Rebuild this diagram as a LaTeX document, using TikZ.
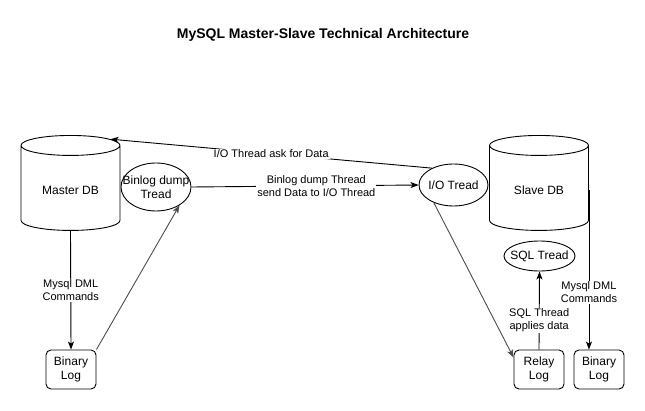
\documentclass[tikz,border=0pt]{standalone}
\usepackage{fontspec}
\setmainfont{Liberation Sans}
\usetikzlibrary{shapes.geometric,arrows.meta}
\newcommand{\zbox}[1]{\makebox[0pt]{#1}}
\begin{document}
\begin{tikzpicture}[x=1pt,y=-1pt,
    every node/.style={font=\fontsize{11}{13}\selectfont},
    db/.style={cylinder, draw, shape border rotate=90, aspect=2, anchor=north,
      minimum width=99pt, minimum height=95pt, inner sep=5pt, line width=0.9pt,
      font=\fontsize{12}{14}\selectfont},
    thread/.style={ellipse, draw, inner sep=0pt, align=center, line width=0.9pt,
      font=\fontsize{12}{14}\selectfont},
    logbox/.style={rectangle, draw, rounded corners=5pt, minimum width=50pt,
      minimum height=39pt, inner sep=0pt, align=center, line width=0.9pt,
      font=\fontsize{12}{14}\selectfont},
    lbl/.style={fill=white, align=center, inner sep=1pt},
    arr/.style={-{Stealth[length=8pt,width=6pt,inset=2pt]}, line width=0.9pt}]
  \useasboundingbox (0,0) rectangle (645,411);
  \node[font=\bfseries\fontsize{14}{16}\selectfont] (title) at (323,35)
    {MySQL Master-Slave Technical Architecture};
  \node[db] (master) at (70.5,135) {\zbox{Master DB}};
  \node[db] (slave) at (539,135) {\zbox{Slave DB}};
  \node[thread, minimum width=70pt, minimum height=48pt] (dump) at (156,187)
    {\zbox{Binlog dump}\\\zbox{Tread}};
  \node[thread, minimum width=69pt, minimum height=42pt] (io) at (453.5,185)
    {\zbox{I/O Tread}};
  \node[thread, minimum width=71pt, minimum height=30pt] (sql) at (539.5,256)
    {\zbox{SQL Tread}};
  \node[logbox] (mbin) at (71,369.5) {Binary\\Log};
  \node[logbox] (relay) at (539,369.5) {Relay\\Log};
  \node[logbox] (sbin) at (599,369.5) {Binary\\Log};
  \draw[arr] (master.south) -- node[lbl] {Mysql DML\\Commands} (mbin.north);
  \draw[arr, draw=black!70] (mbin.north east) -- (dump.-38);
  \draw[arr] (dump.east) -- node[lbl, pos=0.55] {Binlog dump Thread\\send Data to I/O Thread} (io.west);
  \draw[arr] (io.142) -- node[lbl] {I/O Thread ask for Data} (master.52);
  \draw[arr, draw=black!70] (io.-138) -- ([yshift=12pt]relay.west);
  \draw[arr] (relay.north) -- node[lbl, pos=0.37] {SQL Thread\\applies data} (sql.south);
  \draw[arr] (slave.east) -- node[lbl, pos=0.64] {Mysql DML\\Commands} (slave.east |- sbin.north);
\end{tikzpicture}
\end{document}
